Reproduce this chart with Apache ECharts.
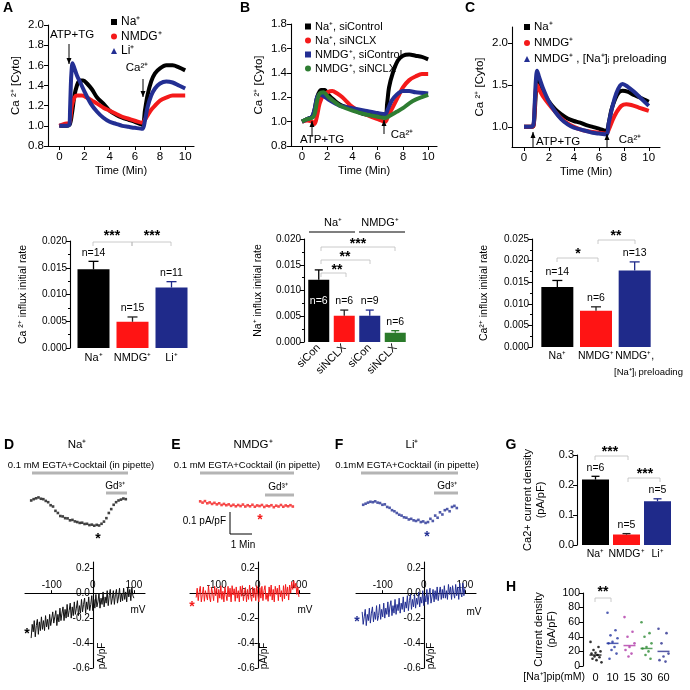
<!DOCTYPE html>
<html>
<head>
<meta charset="utf-8">
<script src="https://cdn.jsdelivr.net/npm/echarts@6/dist/echarts.min.js"></script>
<style>
html, body { margin: 0; padding: 0; background: #fff; }
#fig { width: 690px; height: 690px; }
</style>
</head>
<body>
<div id="fig"></div>
<script>
// ---------- data : top Ca2+ traces, [time (min), ratio] ----------
const naA = [[0,1.0],[0.4,1.0],[0.8,1.01],[1.0,1.12],[1.2,1.3],[1.4,1.4],[1.6,1.45],[1.9,1.45],[2.2,1.42],[2.6,1.36],[3,1.28],[3.5,1.22],[4,1.15],[4.5,1.11],[5,1.08],[5.5,1.06],[6,1.04],[6.6,1.01],[6.8,1.15],[7,1.3],[7.3,1.44],[7.6,1.52],[8,1.57],[8.5,1.6],[9,1.6],[9.5,1.58],[10,1.55]];
const nmdgA = [[0,1.0],[0.4,1.02],[0.8,1.03],[0.9,1.1],[1.0,1.2],[1.2,1.28],[1.4,1.3],[1.8,1.3],[2.2,1.28],[2.6,1.25],[3,1.22],[3.5,1.18],[4,1.15],[4.5,1.12],[5,1.09],[5.5,1.07],[6,1.05],[6.6,1.03],[6.8,1.06],[7,1.1],[7.3,1.16],[7.6,1.2],[8,1.25],[8.5,1.28],[9,1.3],[9.5,1.3],[10,1.3]];
const liA = [[0,1.0],[0.4,1.0],[0.8,1.01],[0.85,1.15],[0.9,1.35],[0.95,1.5],[1.05,1.62],[1.2,1.57],[1.4,1.5],[1.7,1.42],[2,1.34],[2.5,1.22],[3,1.14],[3.5,1.08],[4,1.04],[4.5,1.02],[5,1.0],[5.5,0.99],[6,0.98],[6.6,0.97],[6.8,1.05],[7,1.18],[7.3,1.3],[7.6,1.37],[8,1.42],[8.5,1.44],[9,1.43],[9.5,1.4],[10,1.37]];

const naSiCon = [[0,1.0],[0.4,1.02],[0.8,1.04],[1.0,1.1],[1.2,1.2],[1.5,1.26],[1.8,1.26],[2.1,1.22],[2.5,1.18],[3,1.14],[4,1.1],[5,1.06],[6,1.05],[6.6,1.05],[6.75,1.15],[6.9,1.28],[7.2,1.4],[7.6,1.5],[8,1.54],[8.5,1.55],[9,1.54],[9.5,1.53],[10,1.51]];
const naSiNclx = [[0,1.0],[0.4,1.01],[0.8,1.0],[1.0,0.98],[1.2,1.05],[1.4,1.15],[1.7,1.22],[2.0,1.24],[2.4,1.25],[2.8,1.23],[3.2,1.2],[4,1.12],[5,1.06],[6,1.02],[6.6,1.0],[6.8,1.04],[7.2,1.12],[7.6,1.2],[8,1.28],[8.5,1.34],[9,1.37],[9.5,1.39],[10,1.39]];
const nmdgSiCon = [[0,1.0],[0.4,1.02],[0.8,1.04],[1.0,1.1],[1.2,1.2],[1.4,1.22],[1.7,1.21],[2.1,1.18],[2.6,1.15],[3,1.13],[4,1.11],[5,1.09],[6,1.07],[6.6,1.06],[6.8,1.1],[7.1,1.17],[7.5,1.22],[8,1.25],[8.5,1.25],[9,1.24],[10,1.23]];
const nmdgSiNclx = [[0,1.0],[0.4,1.02],[0.8,1.03],[1.0,1.06],[1.2,1.17],[1.4,1.23],[1.7,1.24],[2.1,1.2],[2.6,1.16],[3,1.13],[4,1.09],[5,1.06],[6,1.04],[6.6,1.03],[7,1.05],[7.5,1.08],[8,1.11],[8.5,1.15],[9,1.18],[9.5,1.2],[10,1.22]];

const naC = [[0,1.0],[0.5,1.0],[0.75,1.01],[0.85,1.15],[0.95,1.4],[1.05,1.55],[1.2,1.52],[1.5,1.43],[2,1.3],[2.5,1.21],[3,1.15],[3.5,1.1],[4,1.07],[4.5,1.05],[5,1.02],[5.5,1.0],[6,0.98],[6.6,0.95],[6.8,1.05],[7,1.2],[7.3,1.33],[7.6,1.41],[7.9,1.43],[8.3,1.42],[8.8,1.38],[9.3,1.35],[10,1.3]];
const nmdgC = [[0,1.0],[0.5,1.0],[0.75,1.01],[0.85,1.2],[0.95,1.45],[1.05,1.5],[1.2,1.45],[1.5,1.37],[2,1.27],[2.5,1.18],[3,1.1],[3.5,1.04],[4,1.0],[4.5,0.97],[5,0.95],[5.5,0.94],[6,0.93],[6.6,0.92],[6.8,0.97],[7.1,1.08],[7.4,1.17],[7.8,1.25],[8.2,1.27],[8.6,1.26],[9.2,1.23],[10,1.19]];
const preloadC = [[0,1.0],[0.5,1.0],[0.75,1.02],[0.85,1.25],[0.95,1.55],[1.05,1.67],[1.2,1.6],[1.5,1.47],[2,1.3],[2.5,1.18],[3,1.09],[3.5,1.03],[4,0.99],[4.5,0.97],[5,0.95],[5.5,0.93],[6,0.92],[6.6,0.91],[6.8,1.05],[7.1,1.25],[7.4,1.4],[7.7,1.49],[7.9,1.51],[8.3,1.48],[8.8,1.42],[9.3,1.35],[10,1.25]];

// ---------- data : influx rate bars ----------
const catsA = ['Na⁺', 'NMDG⁺', 'Li⁺'];
const rateA = [0.0147, 0.0049, 0.0113];
const semA = [0.0015, 0.0009, 0.0011];
const nA = ['n=14', 'n=15', 'n=11'];

const catsB = ['siCon', 'siNCLX', 'siCon', 'siNCLX'];
const rateB = [0.0121, 0.0051, 0.0051, 0.0018];
const semB = [0.0019, 0.0011, 0.0011, 0.0004];
const nB = ['', 'n=6', 'n=9', 'n=6'];
const nBInside = 'n=6';

const catsC = ['Na⁺', 'NMDG⁺', 'NMDG⁺,'];
const rateC = [0.0139, 0.0084, 0.0177];
const semC = [0.0015, 0.0009, 0.0020];
const nC = ['n=14', 'n=6', 'n=13'];

// ---------- data : patch clamp time courses (pA/pF, one sample per point) ----------
const traceD = [0.0, 0.006, 0.01, 0.014, 0.008, 0.006, -0.002, -0.008, -0.022, -0.028, -0.048, -0.058, -0.072, -0.074, -0.082, -0.083, -0.092, -0.09, -0.097, -0.1, -0.104, -0.103, -0.109, -0.108, -0.114, -0.112, -0.117, -0.113, -0.116, -0.108, -0.098, -0.082, -0.058, -0.04, -0.02, -0.008, 0.0, 0.004, 0.009, 0.006];
const traceE = [-0.004, -0.01, -0.003, -0.013, -0.009, -0.016, -0.011, -0.018, -0.013, -0.021, -0.016, -0.022, -0.018, -0.025, -0.02, -0.027, -0.021, -0.026, -0.019, -0.028, -0.022, -0.027, -0.02, -0.029, -0.023, -0.026, -0.021, -0.03, -0.024, -0.027, -0.022, -0.031, -0.024, -0.028, -0.021, -0.029, -0.023, -0.027, -0.022, -0.028];
const traceF = [-0.02, -0.015, -0.01, -0.006, -0.008, -0.004, -0.01, -0.012, -0.02, -0.018, -0.03, -0.034, -0.045, -0.05, -0.058, -0.066, -0.07, -0.078, -0.08, -0.088, -0.085, -0.092, -0.095, -0.09, -0.1, -0.097, -0.104, -0.1, -0.085, -0.095, -0.07, -0.08, -0.055, -0.065, -0.045, -0.04, -0.05, -0.03, -0.025, -0.035];

// ---------- data : I-V ramps (mV, pA/pF) ----------
const ivVolt = [-150,-147.5,-145,-142.5,-140,-137.5,-135,-132.5,-130,-127.5,
  -125,-122.5,-120,-117.5,-115,-112.5,-110,-107.5,-105,-102.5,
  -100,-97.5,-95,-92.5,-90,-87.5,-85,-82.5,-80,-77.5,
  -75,-72.5,-70,-67.5,-65,-62.5,-60,-57.5,-55,-52.5,
  -50,-47.5,-45,-42.5,-40,-37.5,-35,-32.5,-30,-27.5,
  -25,-22.5,-20,-17.5,-15,-12.5,-10,-7.5,-5,-2.5,
  0,2.5,5,7.5,10,12.5,15,17.5,20,22.5,
  25,27.5,30,32.5,35,37.5,40,42.5,45,47.5,
  50,52.5,55,57.5,60,62.5,65,67.5,70,72.5,
  75,77.5,80,82.5,85,87.5,90,92.5,95,97.5,
  100];
const ivD = [-0.36,-0.25,-0.31,-0.22,-0.35,-0.26,-0.21,-0.33,-0.23,-0.30,
  -0.19,-0.29,-0.22,-0.30,-0.18,-0.27,-0.21,-0.29,-0.17,-0.26,
  -0.25,-0.15,-0.24,-0.19,-0.14,-0.26,-0.17,-0.23,-0.12,-0.22,
  -0.16,-0.11,-0.22,-0.13,-0.20,-0.09,-0.19,-0.14,-0.08,-0.20,
  -0.11,-0.18,-0.07,-0.17,-0.12,-0.06,-0.18,-0.10,-0.16,-0.05,
  -0.15,-0.09,-0.04,-0.16,-0.07,-0.13,-0.03,-0.14,-0.09,-0.02,
  -0.14,-0.05,-0.12,-0.01,-0.11,-0.07,0.0,-0.12,-0.04,-0.09,
  0.01,-0.11,-0.03,-0.08,0.02,-0.10,-0.02,0.03,-0.09,-0.04,
  0.02,-0.09,-0.01,0.03,-0.08,-0.03,0.04,-0.07,0.0,-0.06,
  0.04,-0.05,0.01,-0.07,0.05,-0.03,0.03,-0.06,0.05,-0.02,
  -0.04];
const ivE = [-0.035,0.04,-0.06,0.01,0.055,-0.07,-0.01,0.05,-0.065,0.02,
  0.035,-0.055,0.06,-0.03,-0.07,0.045,0.0,-0.06,0.055,-0.02,
  0.04,-0.075,0.03,-0.04,0.06,-0.05,0.015,-0.07,0.05,-0.01,
  -0.06,0.055,-0.03,0.04,-0.07,0.06,-0.015,0.035,-0.065,0.05,
  -0.04,0.02,-0.07,0.055,-0.025,0.06,-0.06,0.01,0.045,-0.07,
  0.03,-0.05,0.065,-0.02,-0.065,0.05,-0.035,0.04,-0.06,0.06,
  -0.01,-0.07,0.045,-0.04,0.055,-0.06,0.02,0.06,-0.05,0.0,
  -0.065,0.05,-0.025,0.065,-0.055,0.03,-0.07,0.055,-0.01,0.04,
  -0.06,0.065,-0.03,0.02,-0.065,0.06,-0.045,0.07,-0.02,0.05,
  -0.055,0.065,0.0,0.09,0.03,0.1,0.04,0.08,-0.01,0.05,
  -0.03];
const ivF = [-0.15,-0.25,-0.19,-0.13,-0.26,-0.17,-0.22,-0.12,-0.24,-0.16,
  -0.11,-0.23,-0.15,-0.21,-0.10,-0.22,-0.18,-0.09,-0.21,-0.13,
  -0.19,-0.08,-0.20,-0.12,-0.17,-0.07,-0.19,-0.11,-0.06,-0.18,
  -0.10,-0.16,-0.05,-0.17,-0.09,-0.14,-0.04,-0.16,-0.08,-0.13,
  -0.03,-0.15,-0.07,-0.12,-0.02,-0.14,-0.06,-0.01,-0.13,-0.05,
  -0.11,-0.01,-0.12,-0.04,-0.09,0.01,-0.11,-0.03,-0.08,0.02,
  -0.10,-0.02,-0.07,0.03,-0.09,-0.01,0.04,-0.08,-0.03,0.03,
  -0.07,0.02,-0.05,0.05,-0.06,0.0,0.05,-0.05,0.03,-0.04,
  0.06,-0.04,0.02,-0.05,0.07,-0.01,0.05,-0.05,0.06,0.0,
  -0.04,0.07,-0.02,0.05,-0.05,0.08,0.0,-0.03,0.08,-0.02,
  0.04];

// ---------- data : G current density bars, H scatter ----------
const catsG = ['Na⁺', 'NMDG⁺', 'Li⁺'];
const densG = [0.218, 0.035, 0.146];
const semG = [0.011, 0.003, 0.008];
const nG = ['n=6', 'n=5', 'n=5'];

const catsH = ['0', '10', '15', '30', '60'];
const pointsH = [
  [33, 26, 22, 20, 18, 17, 15, 13, 12, 10, 8, 5],
  [73, 49, 42, 38, 33, 31, 26, 22, 17, 10],
  [67, 47, 40, 31, 26, 22, 17, 13],
  [60, 45, 40, 31, 26, 24, 20, 15, 10],
  [51, 45, 31, 17, 13, 8, 6]
];
const meanH = [15, 31, 28, 24, 20];

// ---------- style ----------
const FONT = "'Liberation Sans', Arial, sans-serif";
const BLK = '#000000', RED = '#f41a1a', BLU = '#232f93', GRN = '#2e7d32';
const barColA = [BLK, '#ff1414', '#1f2a8a'];
const errColA = [BLK, '#222', '#1f2a8a'];
const barColB = [BLK, '#ff1414', '#1f2a8a', '#2a7a2a'];
const colH = ['#000', '#2536a0', '#b03aa8', '#2e8b34', '#2a2f8f'];
const JIT = [-5, 3, -2, 5, 0, -4, 2, -1, 4, -3, 1, 6];

const grids = [
  {left: 48, top: 25, width: 146, height: 121},   // 0 A trace
  {left: 291, top: 24, width: 146, height: 122},  // 1 B trace
  {left: 512, top: 27, width: 148, height: 120},  // 2 C trace
  {left: 74, top: 241, width: 117, height: 107},  // 3 A bar
  {left: 306, top: 239, width: 102, height: 103}, // 4 B bar
  {left: 538, top: 239, width: 116, height: 108}, // 5 C bar
  {left: 30, top: 494, width: 97, height: 41},    // 6 D time course
  {left: 199, top: 494, width: 95, height: 41},   // 7 E
  {left: 362, top: 494, width: 96, height: 41},   // 8 F
  {left: 25, top: 562, width: 120, height: 106},  // 9 D IV
  {left: 190, top: 562, width: 120, height: 106}, // 10 E IV
  {left: 356, top: 562, width: 120, height: 106}, // 11 F IV
  {left: 580, top: 455, width: 93, height: 90},   // 12 G
  {left: 587, top: 593, width: 85, height: 73}    // 13 H
];

const txtStyle = (size) => ({fontSize: size, fontFamily: FONT, color: '#000'});
const axLine = {show: true, onZero: false, lineStyle: {color: '#000', width: 1.1}};

function timeX(gi, min, max) {
  return {type: 'value', gridIndex: gi, min, max,
    axisLine: axLine,
    axisTick: {customValues: [0, 2, 4, 6, 8, 10], length: 4, lineStyle: {color: '#000'}},
    axisLabel: Object.assign({customValues: [0, 2, 4, 6, 8, 10], margin: 5}, txtStyle(11.5)),
    splitLine: {show: false},
    name: 'Time (Min)', nameLocation: 'middle', nameGap: 19, nameTextStyle: txtStyle(11)};
}
function timeY(gi, min, max, custom) {
  const y = {type: 'value', gridIndex: gi, min, max,
    axisLine: axLine,
    axisTick: {length: 4, lineStyle: {color: '#000'}},
    axisLabel: Object.assign({formatter: v => v.toFixed(1), margin: 4}, txtStyle(11.5)),
    splitLine: {show: false},
    name: 'Ca ²⁺ [Cyto]', nameLocation: 'middle', nameGap: 26, nameTextStyle: txtStyle(11.5)};
  if (custom) {
    y.axisTick.customValues = custom;
    y.axisLabel.customValues = custom;
  } else {
    y.interval = 0.2;
  }
  return y;
}
function barX(gi, cats, rotate, size) {
  return {type: 'category', gridIndex: gi, data: cats,
    axisLine: {show: false}, axisTick: {show: false},
    axisLabel: Object.assign({interval: 0, rotate: rotate || 0, margin: 4}, txtStyle(size || 11))};
}
function barY(gi, max, interval, offset, digits, name, gap, nameSize) {
  return {type: 'value', gridIndex: gi, min: 0, max, interval, offset,
    axisLine: axLine,
    axisTick: {show: true, length: 4, lineStyle: {color: '#000'}},
    minorTick: {show: true, splitNumber: 2, length: 2, lineStyle: {color: '#000'}},
    splitLine: {show: false}, minorSplitLine: {show: false},
    axisLabel: Object.assign({formatter: v => v.toFixed(digits), margin: 3}, txtStyle(10)),
    name, nameLocation: 'middle', nameGap: gap, nameTextStyle: Object.assign({lineHeight: 13}, txtStyle(nameSize || 10.5))};
}
function hiddenX(gi, min, max) { return {type: 'value', gridIndex: gi, min, max, show: false}; }
function hiddenY(gi, min, max) { return {type: 'value', gridIndex: gi, min, max, show: false}; }
// I-V axes cross at the origin: shift each axis into the grid by its zero position
function ivX(gi) {
  return {type: 'value', gridIndex: gi, min: -165, max: 127, position: 'top', offset: -31.2,
    axisLine: {show: true, onZero: false, lineStyle: {color: '#000', width: 1.1}},
    axisTick: {customValues: [-100, 0, 100], length: 3, lineStyle: {color: '#000'}},
    axisLabel: Object.assign({customValues: [-100, 0, 100], margin: 3}, txtStyle(10)),
    splitLine: {show: false}};
}
function ivY(gi) {
  return {type: 'value', gridIndex: gi, min: -0.6, max: 0.25, interval: 0.2, position: 'left', offset: -67.8,
    axisLine: {show: true, onZero: false, lineStyle: {color: '#000', width: 1.1}},
    axisTick: {length: 3, lineStyle: {color: '#000'}},
    axisLabel: Object.assign({formatter: v => v.toFixed(1), margin: 3}, txtStyle(10)),
    splitLine: {show: false}};
}

const xAxis = [
  timeX(0, -0.9, 10.7), timeX(1, -0.87, 10.7), timeX(2, -0.96, 10.9),
  barX(3, catsA), barX(4, catsB, 45), barX(5, catsC, 0, 10.5),
  hiddenX(6, -0.5, 39.5), hiddenX(7, -0.5, 39.5), hiddenX(8, -0.5, 39.5),
  ivX(9), ivX(10), ivX(11),
  barX(12, catsG, 0, 10.5),
  {type: 'category', gridIndex: 13, data: catsH, axisLine: {show: false}, axisTick: {show: false},
   axisLabel: Object.assign({interval: 0, margin: 6}, txtStyle(11))}
];
const yAxis = [
  timeY(0, 0.8, 2.0), timeY(1, 0.8, 1.8), timeY(2, 0.76, 2.19, [1.0, 1.5, 2.0]),
  barY(3, 0.02, 0.005, 4, 3, 'Ca ²⁺ influx initial rate', 40),
  barY(4, 0.02, 0.005, 2, 3, 'Na⁺ influx initial rate', 39),
  barY(5, 0.025, 0.005, 6, 3, 'Ca²⁺ influx initial rate', 41),
  hiddenY(6, -0.16, 0.03), hiddenY(7, -0.16, 0.03), hiddenY(8, -0.16, 0.03),
  ivY(9), ivY(10), ivY(11),
  barY(12, 0.3, 0.1, 3, 1, 'Ca2+ current density\n(pA/pF)', 30, 11),
  barY(13, 100, 20, 4, 0, 'Current density\n(pA/pF)', 22, 11)
];
yAxis[12].minorTick = {show: false};
yAxis[13].minorTick = {show: false};
yAxis[12].axisLabel.fontSize = 11;
yAxis[13].axisLabel.fontSize = 10.5;

function trace(name, gi, data, color) {
  return {name, type: 'line', xAxisIndex: gi, yAxisIndex: gi, data, smooth: 0.3,
    symbol: 'none', color, lineStyle: {color, width: 4}, itemStyle: {color}, silent: true};
}
function bars(gi, vals, cols, width, insideLabel) {
  return {type: 'bar', xAxisIndex: gi, yAxisIndex: gi, barWidth: width, silent: true,
    data: vals.map((v, i) => {
      const d = {value: v, itemStyle: {color: cols[i]}};
      if (insideLabel && i === 0) {
        d.label = {show: true, position: 'insideTop', distance: 16, formatter: insideLabel,
          color: '#fff', fontSize: 10.5, fontFamily: FONT};
      }
      return d;
    })};
}
function errs(gi, vals, sem, labels, cols, cap) {
  return {type: 'custom', xAxisIndex: gi, yAxisIndex: gi, z: 4, silent: true,
    data: vals.map((v, i) => [i, v, v + sem[i]]),
    renderItem(params, api) {
      const i = params.dataIndex;
      const p0 = api.coord([api.value(0), api.value(1)]);
      const p1 = api.coord([api.value(0), api.value(2)]);
      const c = cols[i];
      const kids = [
        {type: 'line', shape: {x1: p0[0], y1: p0[1], x2: p1[0], y2: p1[1]}, style: {stroke: c, lineWidth: 1.3}},
        {type: 'line', shape: {x1: p1[0] - cap, y1: p1[1], x2: p1[0] + cap, y2: p1[1]}, style: {stroke: c, lineWidth: 1.3}}
      ];
      if (labels[i]) {
        kids.push({type: 'text', style: {text: labels[i], x: p1[0], y: p1[1] - 3, align: 'center',
          verticalAlign: 'bottom', font: '10.5px ' + FONT, fill: '#000'}});
      }
      return {type: 'group', children: kids};
    }};
}
function dots(gi, vals, color) {
  return {type: 'scatter', xAxisIndex: gi, yAxisIndex: gi, symbol: 'rect', symbolSize: 2.6, silent: true,
    itemStyle: {color}, data: vals.map((v, i) => [i, v])};
}
function iv(gi, vals, color) {
  return {type: 'line', xAxisIndex: gi, yAxisIndex: gi, symbol: 'none', silent: true,
    lineStyle: {color, width: 1}, data: ivVolt.map((v, i) => [v, vals[i]])};
}

const series = [
  trace('Na⁺', 0, naA, BLK), trace('NMDG⁺', 0, nmdgA, RED), trace('Li⁺', 0, liA, BLU),
  trace('Na⁺, siControl', 1, naSiCon, BLK), trace('Na⁺, siNCLX', 1, naSiNclx, RED),
  trace('NMDG⁺, siControl', 1, nmdgSiCon, BLU), trace('NMDG⁺, siNCLX', 1, nmdgSiNclx, GRN),
  trace('Na⁺', 2, naC, BLK), trace('NMDG⁺', 2, nmdgC, RED), trace('NMDG⁺ , [Na⁺]ᵢ preloading', 2, preloadC, BLU),
  bars(3, rateA, barColA, 32), errs(3, rateA, semA, nA, errColA, 5),
  bars(4, rateB, barColB, 21, nBInside), errs(4, rateB, semB, nB, [BLK, '#222', '#1f2a8a', '#2a7a2a'], 4),
  bars(5, rateC, barColA, 32), errs(5, rateC, semC, nC, errColA, 5),
  dots(6, traceD, '#111'), dots(7, traceE, RED), dots(8, traceF, BLU),
  iv(9, ivD, '#111'), iv(10, ivE, RED), iv(11, ivF, BLU),
  bars(12, densG, barColA, 27), errs(12, densG, semG, nG, errColA, 4)
];
pointsH.forEach((pts, c) => {
  series.push({type: 'scatter', xAxisIndex: 13, yAxisIndex: 13, symbol: 'circle', symbolSize: 2.6, silent: true,
    itemStyle: {color: colH[c]},
    data: pts.map((v, i) => ({value: [c, v], symbolOffset: [JIT[i % JIT.length], 0]}))});
});
series.push({type: 'scatter', xAxisIndex: 13, yAxisIndex: 13, symbol: 'rect', symbolSize: [12, 1.5], silent: true,
  data: meanH.map((m, c) => ({value: [c, m], itemStyle: {color: colH[c]}}))});

function legend(left, top, gap, size, items) {
  return {left, top, orient: 'vertical', itemWidth: 6, itemHeight: 6, itemGap: gap, selectedMode: false,
    textStyle: Object.assign({padding: [0, 0, 0, -1]}, txtStyle(size)), data: items};
}
const legends = [
  legend(106, 11, 2.5, 12, [{name: 'Na⁺', icon: 'rect'}, {name: 'NMDG⁺', icon: 'circle'}, {name: 'Li⁺', icon: 'triangle'}]),
  legend(300, 16, 3, 11, [{name: 'Na⁺, siControl', icon: 'rect'}, {name: 'Na⁺, siNCLX', icon: 'circle'},
    {name: 'NMDG⁺, siControl', icon: 'rect'}, {name: 'NMDG⁺, siNCLX', icon: 'circle'}]),
  legend(519, 16, 4, 11.5, [{name: 'Na⁺', icon: 'rect'}, {name: 'NMDG⁺', icon: 'circle'},
    {name: 'NMDG⁺ , [Na⁺]ᵢ preloading', icon: 'triangle'}])
];

// ---------- annotations ----------
function T(x, y, s, size, opt) {
  opt = opt || {};
  return {type: 'text', x, y, rotation: opt.rot || 0, z: 100,
    style: {text: s, fill: opt.color || '#000', font: (opt.bold ? 'bold ' : '') + size + 'px ' + FONT,
      align: opt.align || 'center', verticalAlign: opt.va || 'middle'}};
}
function L(x1, y1, x2, y2, color, w) {
  return {type: 'line', z: 100, shape: {x1, y1, x2, y2}, style: {stroke: color || '#000', lineWidth: w || 1}};
}
function bracket(x1, x2, y) {
  return {type: 'polyline', z: 100, shape: {points: [[x1, y + 4], [x1, y], [x2, y], [x2, y + 4]]},
    style: {stroke: '#bdbdbd', lineWidth: 0.8, fill: null}};
}
function arrow(x, y1, y2) {
  const d = y2 > y1 ? 1 : -1;
  return [L(x, y1, x, y2, '#000', 1),
    {type: 'polygon', z: 100, shape: {points: [[x - 2.5, y2 - d * 6], [x + 2.5, y2 - d * 6], [x, y2]]}, style: {fill: '#000'}}];
}
const GRAY = '#b4b4b4';
const stars = (x, y, s, c) => T(x, y, s, 14, {bold: true, color: c || '#000'});
const vert = Math.PI / 2;

const graphic = [
  T(8, 8, 'A', 14, {bold: true}), T(245, 8, 'B', 14, {bold: true}),
  T(470, 8, 'C', 14, {bold: true}), T(9, 445, 'D', 14, {bold: true}),
  T(176, 445, 'E', 14, {bold: true}), T(339, 445, 'F', 14, {bold: true}),
  T(511, 445, 'G', 14, {bold: true}), T(511, 587, 'H', 14, {bold: true}),
  // top traces
  T(72, 35, 'ATP+TG', 11.5), ...arrow(69, 44, 64),
  T(137, 68, 'Ca²⁺', 11.5), ...arrow(143, 79, 97),
  T(322, 140, 'ATP+TG', 11.5), ...arrow(312, 137, 121),
  T(402, 135, 'Ca²⁺', 11.5), ...arrow(384, 134, 120),
  T(558, 142, 'ATP+TG', 11.5), ...arrow(533, 148, 132),
  T(630, 140, 'Ca²⁺', 11.5), ...arrow(607, 148, 134),
  // bar panels
  bracket(93, 132, 242), bracket(132, 171, 242), stars(112, 236, '***'), stars(152, 236, '***'),
  T(333, 223, 'Na⁺', 11), T(380, 223, 'NMDG⁺', 11), L(309, 232, 355, 232, '#000', 1.2), L(359, 232, 405, 232, '#000', 1.2),
  bracket(321, 395, 247), bracket(321, 370, 260), bracket(321, 346, 273),
  stars(358, 244, '***'), stars(345, 257, '**'), stars(337, 270, '**'),
  bracket(557, 598, 258), bracket(598, 635, 240), stars(578, 254, '*'), stars(616, 236, '**'),
  T(614, 372, '[Na⁺]ᵢ preloading', 9.5, {align: 'left'}),
  // D E F headers
  T(77, 445, 'Na⁺', 11.5), T(253, 445, 'NMDG⁺', 11.5), T(412, 445, 'Li⁺', 11.5),
  T(81, 465, '0.1 mM EGTA+Cocktail (in pipette)', 9.5), T(247, 465, '0.1 mM EGTA+Cocktail (in pipette)', 9.5),
  T(407, 465, '0.1mM EGTA+Cocktail (in pipette)', 9.5),
  L(32, 473, 128, 473, GRAY, 3), L(200, 473, 294, 473, GRAY, 3), L(361, 473, 458, 473, GRAY, 3),
  T(115, 486, 'Gd³⁺', 10), T(278, 487, 'Gd³⁺', 10), T(447, 486, 'Gd³⁺', 10),
  L(106, 493, 127, 493, GRAY, 3), L(265, 495, 294, 495, GRAY, 3), L(434, 493, 458, 493, GRAY, 3),
  stars(98, 539, '*'), stars(260, 520, '*', RED), stars(427, 537, '*', BLU),
  // scale bar
  T(226, 521, '0.1 pA/pF', 10, {align: 'right'}), L(230, 512, 230, 534, '#000', 1), L(230, 534, 252, 534, '#000', 1),
  T(243, 545, '1 Min', 10),
  // IV panels
  stars(27, 634, '*'), stars(192, 607, '*', RED), stars(357, 622, '*', BLU),
  T(138, 610, 'mV', 10), T(305, 610, 'mV', 10), T(474, 612, 'mV', 10),
  T(102, 656, 'pA/pF', 10, {rot: vert}), T(264, 656, 'pA/pF', 10, {rot: vert}),
  T(431, 656, 'pA/pF', 10, {rot: vert}),
  // G, H
  bracket(595, 628, 456), bracket(628, 660, 478), stars(610, 452, '***'), stars(645, 474, '***'),
  bracket(595, 611, 598), stars(603, 592, '**'),
  T(585, 677, '[Na⁺]pip(mM)', 10.5, {align: 'right'})
];

const chart = echarts.init(document.getElementById('fig'));
chart.setOption({
  animation: false,
  backgroundColor: '#fff',
  textStyle: {fontFamily: FONT},
  grid: grids,
  xAxis,
  yAxis,
  legend: legends,
  series,
  graphic
});
</script>
</body>
</html>
